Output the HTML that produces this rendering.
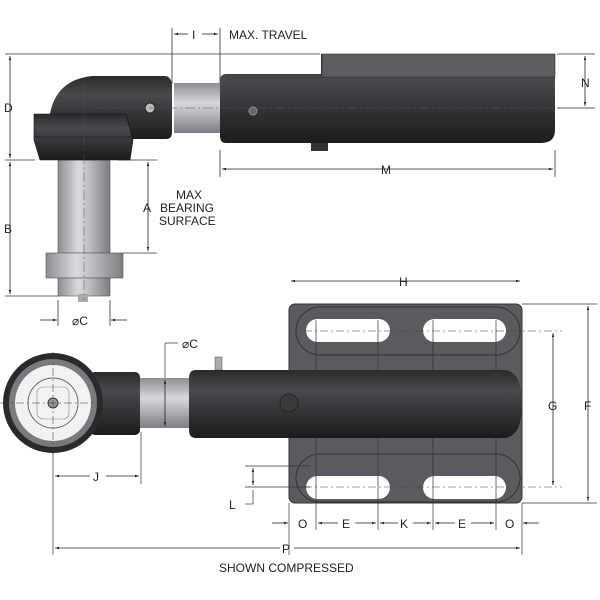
<!DOCTYPE html>
<html><head><style>html,body{margin:0;padding:0;background:#fff}svg{display:block}text{font-family:"Liberation Sans",sans-serif;font-size:12px;fill:#222}</style></head>
<body>
<svg width="600" height="600" viewBox="0 0 600 600" xmlns="http://www.w3.org/2000/svg">
<defs>
<linearGradient id="dk" x1="0" y1="0" x2="0" y2="1"><stop offset="0" stop-color="#2a2a2c"/><stop offset=".3" stop-color="#4a4a4e"/><stop offset=".7" stop-color="#2e2e31"/><stop offset="1" stop-color="#1c1c1e"/></linearGradient>
<linearGradient id="rodv" x1="0" y1="0" x2="0" y2="1"><stop offset="0" stop-color="#8d8d92"/><stop offset=".4" stop-color="#d8d8dc"/><stop offset="1" stop-color="#7c7c82"/></linearGradient>
<linearGradient id="rodh" x1="0" y1="0" x2="1" y2="0"><stop offset="0" stop-color="#8d8d92"/><stop offset=".4" stop-color="#dcdce0"/><stop offset="1" stop-color="#7c7c82"/></linearGradient>
<marker id="a" viewBox="0 0 10 10" refX="10" refY="5" markerWidth="7" markerHeight="5" orient="auto-start-reverse"><path d="M0,2 L10,5 L0,8z" fill="#222"/></marker>
</defs>
<g stroke="#333" stroke-width="0.8" fill="none">
<!-- top view ext lines -->
<line x1="5" y1="54" x2="320" y2="54"/><line x1="5" y1="160" x2="35" y2="160"/><line x1="5" y1="296" x2="60" y2="296"/>
<line x1="557" y1="54" x2="595" y2="54"/><line x1="557" y1="108" x2="595" y2="108"/>
<line x1="172" y1="28" x2="172" y2="84"/><line x1="220" y1="28" x2="220" y2="84"/>
<line x1="220" y1="150" x2="220" y2="177"/><line x1="555" y1="150" x2="555" y2="177"/>
<line x1="118" y1="160" x2="157" y2="160"/><line x1="123" y1="253" x2="157" y2="253"/>
<line x1="58" y1="300" x2="58" y2="326"/><line x1="110" y1="300" x2="110" y2="326"/>
</g>
<g stroke="#222" stroke-width="0.8" fill="none">
<line x1="10" y1="56" x2="10" y2="158" marker-start="url(#a)" marker-end="url(#a)"/>
<line x1="10" y1="162" x2="10" y2="294" marker-start="url(#a)" marker-end="url(#a)"/>
<line x1="148" y1="162" x2="148" y2="251" marker-start="url(#a)" marker-end="url(#a)"/>
<line x1="585" y1="56" x2="585" y2="106" marker-start="url(#a)" marker-end="url(#a)"/>
<line x1="222" y1="169" x2="553" y2="169" marker-start="url(#a)" marker-end="url(#a)"/>
<line x1="291" y1="281" x2="520" y2="281" marker-start="url(#a)" marker-end="url(#a)"/>
<line x1="174" y1="34" x2="188" y2="34" marker-start="url(#a)"/><line x1="202" y1="34" x2="218" y2="34" marker-end="url(#a)"/>
<line x1="40" y1="320" x2="57" y2="320" marker-end="url(#a)"/><line x1="127" y1="320" x2="111" y2="320" marker-end="url(#a)"/>
</g>
<!-- top view parts -->
<rect x="58" y="160" width="52" height="93" fill="url(#rodh)" stroke="#555" stroke-width=".6"/>
<rect x="46" y="253" width="77" height="25" fill="url(#rodh)" stroke="#555" stroke-width=".6"/>
<rect x="58" y="278" width="52" height="18" fill="url(#rodh)" stroke="#555" stroke-width=".6"/>
<rect x="78" y="294" width="10" height="8" fill="#aaa"/>
<rect x="174" y="83" width="46" height="50" fill="url(#rodv)"/>
<path d="M50,114 Q56,80 92,76 L166,76 Q172,78 172,86 L172,132 Q172,139 166,139 L83,139 Z" fill="url(#dk)"/>
<path d="M34,114 L126,114 L133,140 L130,160 L40,160 L34,140 Z" fill="url(#dk)" stroke="#111" stroke-width=".6"/>
<line x1="34" y1="137" x2="133" y2="137" stroke="#111" stroke-width=".6"/>
<circle cx="150" cy="108" r="5" fill="#bbb" stroke="#222"/>
<rect x="311" y="138" width="17" height="13" fill="#333"/>
<path d="M226,74 L321,74 L321,54 L555,54 L555,130 Q555,143 541,143 L226,143 Q220,143 220,136 L220,81 Q220,74 226,74 Z" fill="url(#dk)"/>
<rect x="322" y="54" width="233" height="23" fill="#5d5d62" stroke="#333" stroke-width=".6"/>
<circle cx="253" cy="111" r="4" fill="#666" stroke="#999"/>
<line x1="95" y1="108" x2="590" y2="108" stroke="#555" stroke-width=".6" stroke-dasharray="10 3 2 3"/>
<line x1="84" y1="82" x2="84" y2="300" stroke="#555" stroke-width=".5" stroke-dasharray="10 3 2 3"/>
<!-- top labels -->
<text x="4" y="112">D</text><text x="4" y="233">B</text><text x="143" y="212">A</text>
<text x="176" y="199">MAX</text><text x="160" y="212">BEARING</text><text x="159" y="225">SURFACE</text>
<text x="192" y="39">I</text><text x="229" y="39">MAX. TRAVEL</text>
<text x="581" y="87">N</text><text x="381" y="174">M</text><text x="399" y="286">H</text>
<text x="72" y="325">⌀C</text>

<!-- bottom view: plate -->
<rect x="289" y="304" width="233" height="199" rx="6" fill="#5a5a60" stroke="#333"/>
<rect x="296" y="307" width="224" height="48" rx="24" fill="none" stroke="#333"/>
<rect x="296" y="454" width="224" height="48" rx="24" fill="none" stroke="#333"/>
<rect x="306" y="319" width="84" height="23" rx="11.5" fill="#fff"/>
<rect x="423" y="319" width="83" height="23" rx="11.5" fill="#fff"/>
<rect x="306" y="476" width="84" height="23" rx="11.5" fill="#fff"/>
<rect x="423" y="476" width="83" height="23" rx="11.5" fill="#fff"/>
<g stroke="#444" stroke-width=".6" fill="none" stroke-dasharray="8 3 2 3">
<line x1="304" y1="331" x2="562" y2="331"/><line x1="304" y1="487" x2="562" y2="487"/>
</g>
<g stroke="#333" stroke-width=".7">
<line x1="316" y1="320" x2="316" y2="530"/><line x1="378" y1="320" x2="378" y2="530"/>
<line x1="433" y1="320" x2="433" y2="530"/><line x1="496" y1="320" x2="496" y2="530"/>
<line x1="289" y1="503" x2="289" y2="555"/><line x1="522" y1="503" x2="522" y2="555"/>
<line x1="522" y1="304" x2="597" y2="304"/><line x1="522" y1="503" x2="597" y2="503"/>
<line x1="245" y1="466" x2="310" y2="466"/><line x1="245" y1="487" x2="310" y2="487"/>
<line x1="253" y1="490" x2="253" y2="504"/><line x1="245" y1="504" x2="253" y2="504"/>
<line x1="53" y1="440" x2="53" y2="555"/><line x1="141" y1="432" x2="141" y2="484"/>
<line x1="165" y1="343" x2="165" y2="378"/><line x1="165" y1="343" x2="178" y2="343"/>
</g>
<!-- rod, head, wheel -->
<rect x="140" y="378" width="50" height="50" fill="url(#rodv)"/>
<rect x="90" y="372" width="50" height="63" rx="5" fill="url(#dk)"/>
<circle cx="53" cy="403" r="50" fill="#2a2a2c"/>
<circle cx="53" cy="403" r="44" fill="#7a7a7e"/>
<circle cx="53" cy="403" r="38" fill="#f2f2f2"/>
<circle cx="53" cy="403" r="25" fill="none" stroke="#666"/>
<rect x="37" y="387" width="32" height="32" rx="6" fill="none" stroke="#888" stroke-width=".6"/>
<circle cx="53" cy="403" r="5" fill="#999" stroke="#333"/>
<g stroke="#333" stroke-width=".5" stroke-dasharray="8 3 2 3"><line x1="0" y1="403" x2="110" y2="403"/><line x1="53" y1="352" x2="53" y2="455"/></g>
<rect x="215" y="357" width="7" height="13" fill="#aaa" stroke="#555" stroke-width=".5"/>
<path d="M196,370 L505,370 Q522,372 522,404 Q522,436 505,438 L196,438 Q189,438 189,430 L189,378 Q189,370 196,370 Z" fill="url(#dk)"/>
<circle cx="289" cy="403" r="9" fill="#3a3a3d" stroke="#222"/>
<!-- bottom dims -->
<g stroke="#222" stroke-width=".8" fill="none">
<line x1="165" y1="380" x2="165" y2="426" marker-start="url(#a)" marker-end="url(#a)"/>
<line x1="553" y1="333" x2="553" y2="485" marker-start="url(#a)" marker-end="url(#a)"/>
<line x1="588" y1="306" x2="588" y2="501" marker-start="url(#a)" marker-end="url(#a)"/>
<line x1="55" y1="476" x2="90" y2="476" marker-start="url(#a)"/><line x1="106" y1="476" x2="139" y2="476" marker-end="url(#a)"/>
<line x1="55" y1="548" x2="280" y2="548" marker-start="url(#a)"/><line x1="294" y1="548" x2="520" y2="548" marker-end="url(#a)"/>
<line x1="253" y1="478" x2="253" y2="468" marker-end="url(#a)"/><line x1="253" y1="476" x2="253" y2="485" marker-end="url(#a)"/>
<line x1="272" y1="523" x2="288" y2="523" marker-end="url(#a)"/>
<line x1="318" y1="523" x2="338" y2="523" marker-start="url(#a)"/><line x1="355" y1="523" x2="376" y2="523" marker-end="url(#a)"/>
<line x1="380" y1="523" x2="398" y2="523" marker-start="url(#a)"/><line x1="413" y1="523" x2="431" y2="523" marker-end="url(#a)"/>
<line x1="435" y1="523" x2="455" y2="523" marker-start="url(#a)"/><line x1="471" y1="523" x2="494" y2="523" marker-end="url(#a)"/>
<line x1="539" y1="523" x2="523" y2="523" marker-end="url(#a)"/>
</g>
<text x="182" y="348">⌀C</text>
<text x="548" y="410">G</text><text x="584" y="410">F</text>
<text x="93" y="481">J</text><text x="229" y="509">L</text>
<text x="298" y="528">O</text><text x="342" y="528">E</text><text x="400" y="528">K</text><text x="458" y="528">E</text><text x="505" y="528">O</text>
<text x="282" y="553">P</text>
<text x="219" y="572">SHOWN COMPRESSED</text>
</svg>
</body></html>
